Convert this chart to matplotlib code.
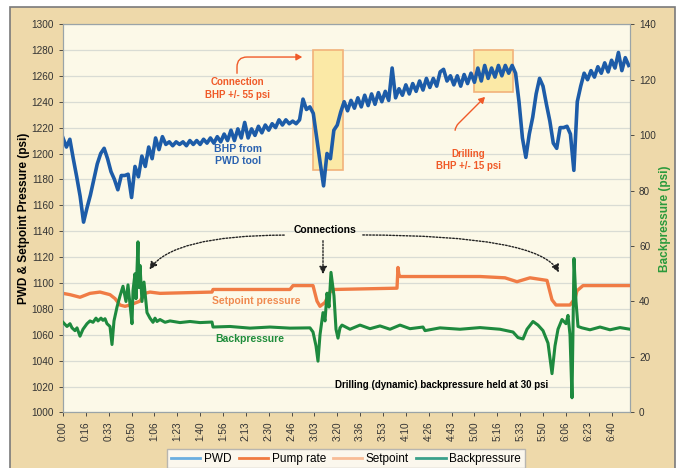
import numpy as np
import matplotlib.pyplot as plt
from matplotlib.patches import Rectangle
from matplotlib.lines import Line2D
from matplotlib.ticker import FuncFormatter, MultipleLocator

plt.rcParams['font.family'] = ['Liberation Sans Narrow', 'Liberation Sans', 'DejaVu Sans']

# PWD bottom-hole pressure (psi), sampled every 150 s
pwd_t = np.arange(166) * 150
pwd_v = [1212, 1205, 1211, 1196, 1182, 1167, 1147, 1158, 1168, 1180,
         1192, 1200, 1204, 1196, 1186, 1180, 1172, 1183, 1183, 1184,
         1166, 1190, 1182, 1198, 1190, 1205, 1196, 1212, 1203, 1213,
         1207, 1209, 1206, 1209, 1207, 1209, 1206, 1210, 1207, 1210,
         1207, 1211, 1208, 1212, 1208, 1213, 1209, 1215, 1210, 1218,
         1210, 1219, 1212, 1224, 1212, 1219, 1214, 1221, 1216, 1222,
         1218, 1223, 1220, 1226, 1222, 1226, 1223, 1225, 1223, 1226,
         1242, 1234, 1236, 1231, 1212, 1193, 1175, 1200, 1196, 1218,
         1222, 1232, 1240, 1233, 1241, 1235, 1243, 1236, 1245, 1237,
         1246, 1238, 1247, 1240, 1248, 1241, 1266, 1243, 1250, 1245,
         1253, 1246, 1254, 1248, 1256, 1249, 1258, 1251, 1258, 1252,
         1263, 1265, 1256, 1260, 1253, 1260, 1252, 1261, 1254, 1262,
         1255, 1266, 1256, 1268, 1258, 1266, 1259, 1268, 1260, 1268,
         1262, 1268, 1262, 1240, 1212, 1197, 1215, 1228, 1246, 1258,
         1252, 1238, 1225, 1208, 1204, 1220, 1220, 1221, 1215, 1187,
         1240, 1252, 1262, 1257, 1264, 1259, 1267, 1262, 1270, 1263,
         1272, 1266, 1278, 1264, 1274, 1268]

# setpoint pressure (psi)
sp_t = [0, 306, 744, 1181, 1619, 2056, 2275, 2494, 2713, 2931, 3369, 3588,
        3806, 4244, 6519, 6563, 9931, 10063, 10938, 11113, 11244, 11463,
        11681, 11856, 14613, 14656, 14700, 14744, 18244, 19338, 19863,
        20431, 21175, 21394, 21569, 22181, 22400, 22488, 22750, 24806]
sp_v = [1092, 1091, 1089, 1092, 1093, 1091, 1088, 1083, 1082, 1083, 1086, 1092,
        1093, 1092, 1093, 1095, 1095, 1098, 1098, 1086, 1082, 1085,
        1093, 1095, 1096, 1112, 1106, 1105, 1105, 1104, 1101,
        1104, 1102, 1087, 1083, 1083, 1088, 1094, 1098, 1098]

# backpressure (psi, right axis)
bp_t = [0, 175, 306, 394, 525, 613, 744, 875, 1050, 1181, 1313, 1444, 1531,
        1663, 1750, 1838, 1925, 2056, 2144, 2231, 2363, 2494, 2625, 2756,
        2844, 2931, 3019, 3063, 3150, 3194, 3281, 3325, 3369, 3456, 3544,
        3675, 3806, 3938, 4025, 4113, 4244, 4463, 4681, 5119, 5556, 5994,
        6519, 6563, 7306, 8181, 9056, 9931, 10806, 10938, 11069, 11156,
        11244, 11375, 11463, 11550, 11638, 11725, 11856, 11944, 12031,
        12119, 12206, 12556, 12994, 13431, 13869, 14306, 14744, 15181,
        15750, 15838, 16494, 17369, 18244, 19119, 19688, 19906, 20125,
        20300, 20563, 20781, 21000, 21219, 21394, 21525, 21656, 21831,
        22006, 22094, 22181, 22269, 22313, 22356, 22444, 22531, 22706,
        23056, 23494, 23931, 24369, 24806]
bp_v = [32.5, 31.0, 32.0, 30.5, 29.5, 30.5, 27.5, 30.0, 32.0, 33.0, 32.5, 34.0, 33.0,
        34.0, 33.2, 33.8, 32.0, 31.0, 24.5, 33.0, 38.0, 42.0, 45.5, 40.0,
        46.0, 39.0, 32.0, 44.0, 50.0, 41.0, 61.5, 45.0, 53.0, 40.0, 47.0,
        36.0, 34.0, 32.5, 34.0, 32.8, 33.5, 32.5, 33.0, 32.4, 32.8, 32.4,
        32.6, 30.8, 31.0, 30.4, 30.8, 30.4, 30.5, 29.0, 24.0, 18.5,
        28.0, 36.0, 33.0, 43.0, 38.0, 50.5, 42.0, 30.0, 26.8,
        30.5, 31.5, 30.0, 31.5, 30.2, 31.2, 30.0, 31.5, 30.2,
        30.8, 29.5, 30.5, 30.0, 30.6, 30.0, 29.0, 27.0, 26.5,
        30.0, 32.8, 31.5, 29.5, 25.0, 14.0, 24.0, 30.0, 33.5,
        32.0, 35.0, 28.0, 5.3, 30.0, 55.5, 40.0, 31.0, 30.5,
        29.8, 30.8, 29.8, 30.6, 30.0]

legend_names = ['PWD', 'Pump rate', 'Setpoint', 'Backpressure']

fig = plt.figure(figsize=(6.81, 4.68), dpi=100)
fig.patch.set_facecolor('white')
fig.patches.append(Rectangle((10 / 681, -0.01), 665 / 681, 1 - 7 / 468 + 0.01,
                             transform=fig.transFigure, facecolor='#eed9aa',
                             edgecolor='#7a7a7a', linewidth=1.2, zorder=-10))

ax = fig.add_axes([0.0925, 0.1186, 0.8326, 0.8301])
ax.set_facecolor('#fcf9e8')
ax2 = ax.twinx()

ax.set_xlim(0, 24806)
ax.set_ylim(1000, 1300)
ax2.set_ylim(0, 140)
ax.yaxis.set_major_locator(MultipleLocator(20))
ax2.yaxis.set_major_locator(MultipleLocator(20))
ax.xaxis.set_major_locator(MultipleLocator(1000))
ax.xaxis.set_major_formatter(FuncFormatter(lambda t, p: "%d:%02d" % (int(t // 3600), int(t % 3600 // 60))))
ax.grid(axis='y', color='#d9dcd4', linewidth=0.9)
ax.set_axisbelow(True)

for a in (ax, ax2):
    for s in a.spines.values():
        s.set_color('#9aa4a8')
    a.tick_params(labelsize=7.2, colors='#333333', length=3, width=0.6)
ax.tick_params(axis='x', rotation=90)

# highlight boxes
ax.add_patch(Rectangle((10938, 1187), 1312, 93, facecolor='#fbe9a6', edgecolor='#f2b27a', linewidth=1.2, zorder=1))
ax.add_patch(Rectangle((17981, 1247.5), 1707, 32.5, facecolor='#fbe9a6', edgecolor='#f2b27a', linewidth=1.2, zorder=1))

ax.plot(pwd_t, pwd_v, color='#1d5ca8', linewidth=2.6, zorder=3)
ax.plot(sp_t, sp_v, color='#f07c45', linewidth=2.4, zorder=3)
ax2.plot(bp_t, bp_v, color='#1e8a3e', linewidth=2.2, zorder=3)

ax.set_ylabel('PWD & Setpoint Pressure (psi)', fontsize=8.5, fontweight='bold', color='black')
ax.yaxis.set_label_coords(-0.058, 0.5)
ax2.set_ylabel('Backpressure (psi)', fontsize=8.5, fontweight='bold', color='#2a9a3c')
ax2.yaxis.set_label_coords(1.051, 0.5)

bold = dict(fontweight='bold', ha='center', va='center')
ax.text(7613, 1250, 'Connection\nBHP +/- 55 psi', color='#f05a28', fontsize=7, linespacing=1.35, **bold)
ax.text(17719, 1195, 'Drilling\nBHP +/- 15 psi', color='#f05a28', fontsize=7, linespacing=1.35, **bold)
ax.text(7656, 1199, 'BHP from\nPWD tool', color='#2a62b0', fontsize=7.5, linespacing=1.25, **bold)
ax.text(11463, 1141, 'Connections', color='black', fontsize=7.5, **bold)
ax.text(8444, 1086, 'Setpoint pressure', color='#f08a50', fontsize=7.5, **bold)
ax.text(8181, 1057, 'Backpressure', color='#1e8c3a', fontsize=7.5, **bold)
ax.text(16581, 1021, 'Drilling (dynamic) backpressure held at 30 psi', color='black', fontsize=7, **bold)

red = dict(arrowstyle='-|>,head_length=0.35,head_width=0.2', color='#f05a28', lw=1.0)
ax.annotate('', xy=(10588, 1274.5), xytext=(7613, 1259.8),
            arrowprops=dict(connectionstyle='angle,angleA=90,angleB=0,rad=10', **red))
ax.annotate('', xy=(18550, 1245.2), xytext=(17150, 1215.8),
            arrowprops=dict(connectionstyle='angle,angleA=90,angleB=45,rad=5', **red))

dots = dict(arrowstyle='-|>,head_length=0.45,head_width=0.22', color='#222222', lw=1.0, linestyle=(0, (1.2, 1.2)))
ax.annotate('', xy=(3719, 1108.5), xytext=(9800, 1137),
            arrowprops=dict(connectionstyle='angle3,angleA=0,angleB=60', **dots))
ax.annotate('', xy=(11375, 1104.6), xytext=(11375, 1134.8), arrowprops=dict(**dots))
ax.annotate('', xy=(21744, 1106.2), xytext=(12994, 1137.1),
            arrowprops=dict(connectionstyle='angle3,angleA=0,angleB=110', **dots))

handles = [Line2D([], [], color=c, linewidth=2) for c in ['#6aaee0', '#f07a40', '#f8bc96', '#3aa08a']]
fig.legend(handles, legend_names, loc='center', bbox_to_anchor=(0.508, 0.02), ncol=4,
           fontsize=8.5, frameon=True, facecolor='white', edgecolor='#aaaaaa', fancybox=False,
           handlelength=2.5, columnspacing=0.6, handletextpad=0.3, borderpad=0.3)

fig.savefig('out.png', dpi=100)
